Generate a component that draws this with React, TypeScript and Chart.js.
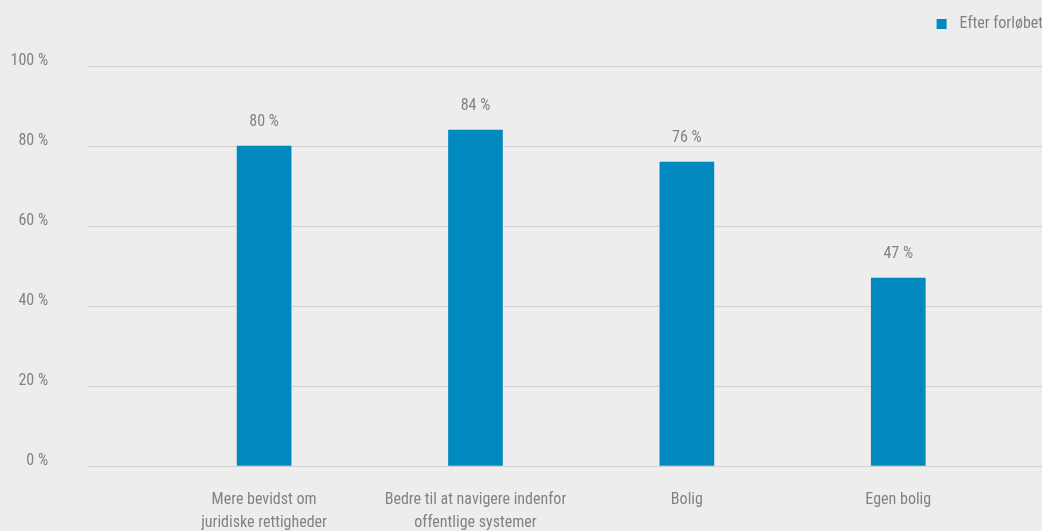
import React, { useEffect, useRef } from "react";
import { Chart, registerables } from "chart.js";

Chart.register(...registerables);

const categories: string[][] = [
  ["Mere bevidst om", "juridiske rettigheder"],
  ["Bedre til at navigere indenfor", "offentlige systemer"],
  ["Bolig"],
  ["Egen bolig"],
];
const positions = [1, 2, 3, 4];
const efterValues = [80, 84, 76, 47];
const yTicks = [0, 20, 40, 60, 80, 100];
const seriesName = "Efter forløbet";

const FONT = '"Roboto Condensed", "Liberation Sans Narrow", Roboto, sans-serif';
const WEIGHT = "normal condensed";
const SIZE = 16;
const BAR = "#0088bf";
const TEXT = "#828282";

const valueLabels = {
  id: "valueLabels",
  afterDatasetsDraw(chart: any) {
    const ctx = chart.ctx;
    const meta = chart.getDatasetMeta(0);
    ctx.save();
    ctx.font = `${WEIGHT} ${SIZE}px ${FONT}`;
    ctx.fillStyle = TEXT;
    ctx.textAlign = "center";
    ctx.textBaseline = "middle";
    meta.data.forEach((el: any, i: number) => {
      ctx.fillText(`${efterValues[i]} %`, el.x, el.y - 24);
    });
    ctx.restore();
  },
};

const customLegend = {
  id: "customLegend",
  afterDraw(chart: any) {
    const ctx = chart.ctx;
    ctx.save();
    ctx.font = `${WEIGHT} ${SIZE}px ${FONT}`;
    const w = ctx.measureText(seriesName).width;
    const textX = chart.width + 1 - w;
    ctx.fillStyle = BAR;
    ctx.fillRect(textX - 23, 19, 10, 10);
    ctx.fillStyle = TEXT;
    ctx.textAlign = "left";
    ctx.textBaseline = "middle";
    ctx.fillText(seriesName, textX, 24);
    ctx.restore();
  },
};

export default function App() {
  const ref = useRef<HTMLCanvasElement | null>(null);
  useEffect(() => {
    if (!ref.current) return;
    const chart = new Chart(ref.current, {
      type: "bar",
      data: {
        datasets: [
          {
            label: seriesName,
            data: positions.map((p, i) => ({ x: p, y: efterValues[i] })),
            backgroundColor: BAR,
            barThickness: 54,
          },
        ],
      },
      options: {
        animation: false,
        responsive: true,
        maintainAspectRatio: false,
        layout: { padding: { left: 10, right: 0, top: 66, bottom: 0 } },
        plugins: { legend: { display: false }, tooltip: { enabled: false } },
        scales: {
          x: {
            type: "linear",
            min: 0.167,
            max: 4.68,
            offset: false,
            grid: { display: false, drawTicks: false },
            border: { display: false },
            afterBuildTicks: (axis: any) => {
              axis.ticks = positions.map((v) => ({ value: v }));
            },
            afterFit: (axis: any) => {
              axis.height = 65;
              axis.paddingLeft = 0;
              axis.paddingRight = 0;
            },
            ticks: {
              autoSkip: false,
              maxRotation: 0,
              padding: 22,
              color: TEXT,
              font: { family: FONT, weight: WEIGHT as any, size: SIZE, lineHeight: 23 / SIZE },
              callback: (v: any) => {
                const idx = positions.indexOf(Number(v));
                return idx >= 0 ? categories[idx] : "";
              },
            },
          },
          y: {
            min: 0,
            max: 100,
            afterBuildTicks: (axis: any) => {
              axis.ticks = yTicks.map((v) => ({ value: v }));
            },
            afterFit: (axis: any) => {
              axis.width = 78;
            },
            grid: { color: "#d2d2d2", drawTicks: false, lineWidth: 1 },
            border: { display: false },
            ticks: {
              padding: 40,
              labelOffset: -5,
              color: TEXT,
              font: { family: FONT, weight: WEIGHT as any, size: SIZE },
              callback: (v: any) => `${v} %`,
            },
          },
        },
      },
      plugins: [valueLabels, customLegend],
    });
    return () => chart.destroy();
  }, []);
  return (
    <div
      style={{
        position: "fixed",
        left: 0,
        top: 0,
        width: 1042,
        height: 531,
        background: "#ededed",
      }}
    >
      <canvas ref={ref} />
    </div>
  );
}
